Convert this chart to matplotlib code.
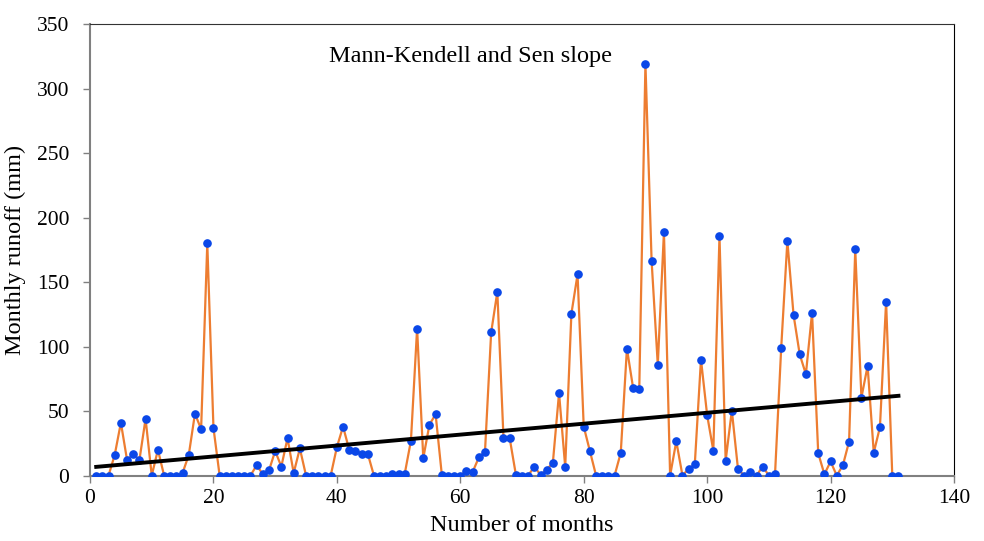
import matplotlib.pyplot as plt
import numpy as np

# monthly runoff (mm), months 1..131
months = np.arange(1, 132)
runoff = [
    0, 0, 0, 16, 41, 12, 17, 12, 44, 0,
    20, 0, 0, 0, 2, 16, 48, 36, 180, 37,
    0, 0, 0, 0, 0, 0, 8, 1, 4, 19,
    7, 29, 2, 21, 0, 0, 0, 0, 0, 22,
    38, 20, 19, 17, 17, 0, 0, 0, 1, 1.5,
    1.5, 27, 114, 13.5, 39.5, 47.5, 0.8, 0, 0, 0,
    3.6, 2.8, 14, 18.5, 111, 142.5, 29, 29, 0.8, 0,
    0, 7, 0.5, 4.4, 10, 64, 6.7, 125.5, 156, 38,
    19, 0, 0, 0, 0, 17.6, 98.5, 68, 67, 319.5,
    166.5, 86, 189, 0, 26.6, 0, 5.2, 8.8, 90, 46.8,
    19.4, 185.7, 11.6, 50.4, 5, 0, 2.8, 0, 7, 0,
    1, 99, 182, 124.7, 94, 78.6, 126.2, 17.3, 1, 10.9,
    0, 8, 26.4, 175.4, 60.5, 85, 17.8, 37.5, 135, 0,
    0,
]

# Sen slope trend line
sen_slope = 0.424
sen_intercept = 6.3
trend_x = np.array([1, 131])
trend_y = sen_intercept + sen_slope * trend_x

plt.rcParams['font.family'] = ['Liberation Serif', 'DejaVu Serif']

fig = plt.figure(figsize=(9.84, 5.41), dpi=100)
ax = fig.add_axes([0.0915, 0.121, 0.878, 0.834])

ax.plot(months, runoff, color='#ED7D31', linewidth=1.6, zorder=2)
ax.plot(months, runoff, 'o', color='#0A47E8', markersize=5.2, zorder=3)
ax.plot(trend_x, trend_y, color='black', linewidth=2.8, zorder=4)

ax.text(61.7, 325, 'Mann-Kendell and Sen slope', fontsize=17.5, ha='center', va='center')

ax.set_xlim(0, 140)
ax.set_ylim(0, 350)
ax.set_xticks(np.arange(0, 141, 20))
ax.set_yticks(np.arange(0, 351, 50))
ax.tick_params(labelsize=15.5, color='#808080', length=5, width=1)
ax.tick_params(axis='y', pad=10)
ax.tick_params(axis='x', pad=5)
ax.set_xlabel('Number of months', fontsize=17.5, labelpad=5)
ax.set_ylabel('Monthly runoff (mm)', fontsize=17.5, labelpad=8)

for side in ['left', 'bottom']:
    ax.spines[side].set_color('#808080')
    ax.spines[side].set_linewidth(1.5)
ax.spines['top'].set_color('#333333')
ax.spines['right'].set_color('black')

fig.savefig('out.png', dpi=100)
